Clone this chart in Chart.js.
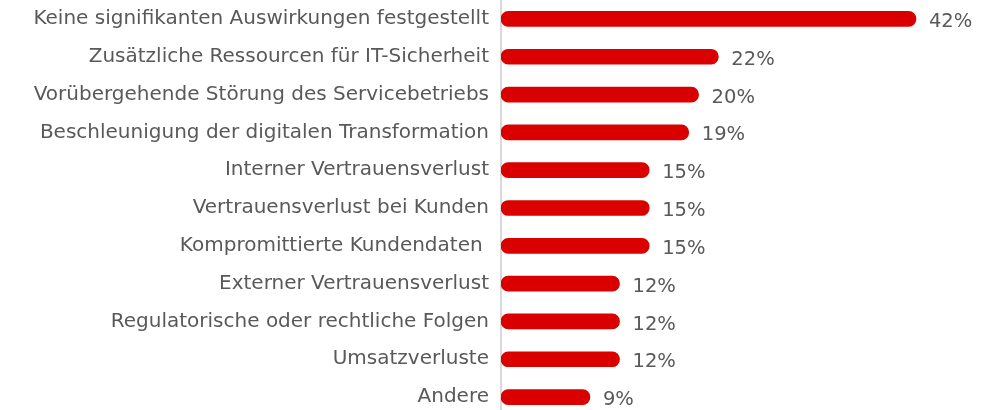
<!DOCTYPE html>
<html lang="de">
<head>
<meta charset="utf-8">
<title>Auswirkungen</title>
<script src="https://cdn.jsdelivr.net/npm/chart.js@4.4.1/dist/chart.umd.min.js"></script>
<style>
    html, body { margin: 0; padding: 0; background: #ffffff; overflow: hidden; }
    #wrap { position: relative; width: 995px; height: 416px; }
</style>
</head>
<body>
<div id="wrap"><canvas id="impactChart"></canvas></div>
<script>
// Antwortkategorien (von oben nach unten)
const categories = [
    'Keine signifikanten Auswirkungen festgestellt',
    'Zusätzliche Ressourcen für IT-Sicherheit',
    'Vorübergehende Störung des Servicebetriebs',
    'Beschleunigung der digitalen Transformation',
    'Interner Vertrauensverlust',
    'Vertrauensverlust bei Kunden',
    'Kompromittierte Kundendaten ',
    'Externer Vertrauensverlust',
    'Regulatorische oder rechtliche Folgen',
    'Umsatzverluste',
    'Andere'
];

// Anteil der Nennungen in Prozent
const shares = [42, 22, 20, 19, 15, 15, 15, 12, 12, 12, 9];

const textColor = '#595959';
const barColor = '#da0000';
const fontFamily = '"DejaVu Sans", "Open Sans", sans-serif';

// Prozentwerte rechts neben jedem Balken
const valueLabels = {
    id: 'valueLabels',
    afterDatasetsDraw(chart) {
        const ctx = chart.ctx;
        const meta = chart.getDatasetMeta(0);
        ctx.save();
        ctx.font = '19.5px ' + fontFamily;
        ctx.fillStyle = textColor;
        ctx.textAlign = 'left';
        ctx.textBaseline = 'middle';
        meta.data.forEach(function(bar, i) {
            ctx.fillText(shares[i] + '%', bar.x + 13, bar.y + 3);
        });
        ctx.restore();
    }
};

const impactChart = new Chart(document.getElementById('impactChart'), {
    type: 'bar',
    data: {
        labels: categories,
        datasets: [{
            data: shares,
            backgroundColor: barColor,
            borderWidth: 0,
            borderRadius: 8,
            borderSkipped: false,
            barThickness: 15
        }]
    },
    options: {
        indexAxis: 'y',
        responsive: true,
        maintainAspectRatio: false,
        animation: false,
        layout: { padding: 0 },
        plugins: {
            legend: { display: false },
            tooltip: { enabled: false }
        },
        scales: {
            x: {
                display: false,
                min: 0,
                max: 50
            },
            y: {
                grid: { display: false, drawTicks: false },
                border: { display: true, color: '#d9d9d9', width: 2 },
                ticks: {
                    color: textColor,
                    padding: 12,
                    font: { family: fontFamily, size: 20 }
                },
                afterFit: function(scale) {
                    // feste Achsenbreite, keine Extra-Ränder oben/unten
                    scale.width = 501;
                    scale.paddingTop = 0;
                    scale.paddingBottom = 0;
                }
            }
        }
    },
    plugins: [valueLabels]
});
</script>
</body>
</html>
